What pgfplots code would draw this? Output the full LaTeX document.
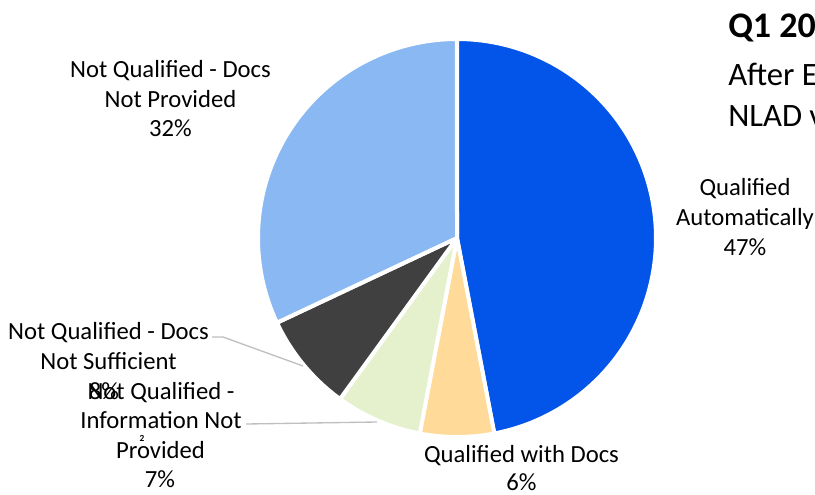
\documentclass[border=0pt]{standalone}
\usepackage{pgfplots}
\pgfplotsset{compat=1.18}
\usepackage{fontspec}
\setmainfont{Carlito}
\definecolor{qauto}{HTML}{0354E8}
\definecolor{qdocs}{HTML}{FFDA99}
\definecolor{ninfo}{HTML}{E5F0CD}
\definecolor{nsuff}{HTML}{404040}
\definecolor{nprov}{HTML}{8AB8F2}
\definecolor{leader}{HTML}{BFBFBF}
\newcommand{\lblfont}{\fontsize{18.5}{22}\selectfont}
\newcommand{\lbl}[3]{\node[anchor=base, inner sep=0pt, font=\lblfont] at (axis cs:#1,#2) {#3};}
\begin{document}
\begin{tikzpicture}
\useasboundingbox (0,0) rectangle (611.25pt,370.5pt);
\clip (0,0) rectangle (611.25pt,370.5pt);
\begin{axis}[
  at={(0,0)}, anchor=south west,
  scale only axis, width=611.25pt, height=370.5pt,
  xmin=0, xmax=815, ymin=0, ymax=494, y dir=reverse,
  hide axis, clip=false,
  every axis plot/.append style={line join=round},
]
% shares in percent, clockwise from 12 o'clock:
% Qualified Automatically 47, Qualified with Docs 6,
% Not Qualified - Information Not Provided 7,
% Not Qualified - Docs Not Sufficient 8, Not Qualified - Docs Not Provided 32
\addplot[fill=qauto, draw=white, line width=3pt, domain={3.6*0}:{3.6*47}, samples=120, variable=\t]
  ({457+199*sin(\t)},{238-199*cos(\t)}) -- (axis cs:457,238) -- cycle;
\addplot[fill=qdocs, draw=white, line width=3pt, domain={3.6*47}:{3.6*53}, samples=30, variable=\t]
  ({457+199*sin(\t)},{238-199*cos(\t)}) -- (axis cs:457,238) -- cycle;
\addplot[fill=ninfo, draw=white, line width=3pt, domain={3.6*53}:{3.6*60}, samples=30, variable=\t]
  ({457+199*sin(\t)},{238-199*cos(\t)}) -- (axis cs:457,238) -- cycle;
\addplot[fill=nsuff, draw=white, line width=3pt, domain={3.6*60}:{3.6*68}, samples=30, variable=\t]
  ({457+199*sin(\t)},{238-199*cos(\t)}) -- (axis cs:457,238) -- cycle;
\addplot[fill=nprov, draw=white, line width=3pt, domain={3.6*68}:{3.6*100}, samples=90, variable=\t]
  ({457+199*sin(\t)},{238-199*cos(\t)}) -- (axis cs:457,238) -- cycle;
% leader lines
\addplot[leader, line width=1pt] coordinates {(212,337) (223,337) (303,366)};
\addplot[leader, line width=1pt] coordinates {(246,424) (377,422)};
% labels
\lbl{170.5}{78}{Not Qualified - Docs}
\lbl{170.5}{107.5}{Not Provided}
\lbl{170.5}{136.7}{32\%}
\lbl{745}{195}{Qualified}
\lbl{745}{225}{Automatically}
\lbl{745}{255}{47\%}
\lbl{521.5}{462}{Qualified with Docs}
\lbl{521.5}{490.5}{6\%}
\lbl{108.5}{339}{Not Qualified - Docs}
\lbl{108.5}{369}{Not Sufficient}
\lbl{104}{399}{8\%}
\lbl{161}{399}{Not Qualified -}
\lbl{161}{428}{Information Not}
\lbl{160.5}{458}{Provided}
\lbl{160}{487}{7\%}
\node[anchor=base, inner sep=0pt, font=\bfseries\fontsize{7}{7}\selectfont] at (axis cs:142,441) {2};
% title
\node[anchor=base west, inner sep=0pt, font=\bfseries\fontsize{27}{30}\selectfont] at (axis cs:728,38) {Q1 2023 Lifeline Applications};
\node[anchor=base west, inner sep=0pt, font=\fontsize{24.5}{29}\selectfont] at (axis cs:728,86) {After Eligibility Determination};
\node[anchor=base west, inner sep=0pt, font=\fontsize{24.5}{29}\selectfont] at (axis cs:728,127) {NLAD verification};
\end{axis}
\end{tikzpicture}
\end{document}
